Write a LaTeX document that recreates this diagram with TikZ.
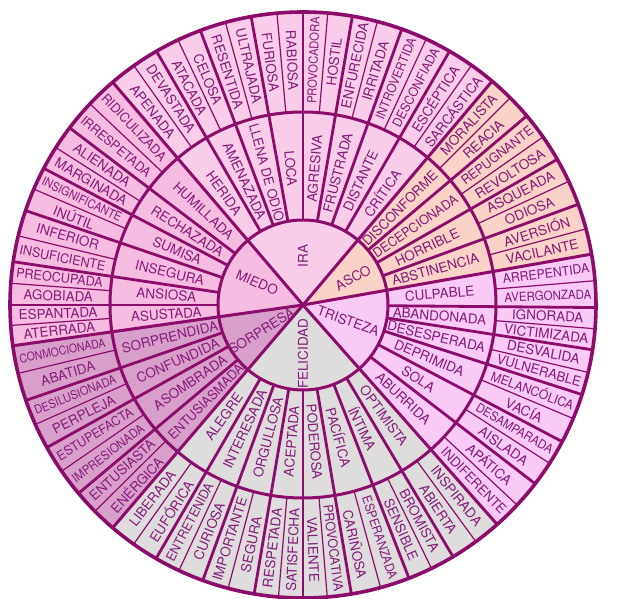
\documentclass[tikz,border=0pt]{standalone}
\usepackage{fontspec}
\setmainfont{TeX Gyre Heros}
\usepackage{graphicx}
\definecolor{cIra}{HTML}{F9CCEA}
\definecolor{cMiedo}{HTML}{F5BBE0}
\definecolor{cAsco}{HTML}{FAD2C7}
\definecolor{cTris}{HTML}{F9CAF6}
\definecolor{cFel}{HTML}{DEDCDD}
\definecolor{cSorp}{HTML}{D99FCB}
\definecolor{lineC}{HTML}{8C0C6C}
\definecolor{txt}{HTML}{86197A}
\newsavebox\fitbox
\newcommand\fitto[2]{\sbox\fitbox{#2}\ifdim\wd\fitbox>#1\relax\pgfmathsetmacro\fr{#1/\wd\fitbox}\pgfmathsetmacro\fy{(1+\fr)/2}\scalebox{\fr}[\fy]{\usebox\fitbox}\else\usebox\fitbox\fi}
\begin{document}
\begin{tikzpicture}[x=1pt,y=1pt,
  lbl/.style={text=txt, font=\fontsize{13.5}{13.5}\selectfont, inner sep=0pt, anchor=center},
  coreline/.style={draw=lineC, line width=3pt},
  secline/.style={draw=lineC, line width=2.8pt},
  thinsep/.style={draw=lineC, line width=1.2pt},
  ringline/.style={draw=lineC, line width=3pt},
  rimline/.style={draw=lineC, line width=3.6pt}]
\useasboundingbox (0pt,0pt) rectangle (641pt,599pt);
\fill[white] (0pt,0pt) rectangle (641pt,599pt);
\def\Ra{85pt}\def\Rb{193pt}\def\Rc{293pt}
\begin{scope}[shift={(303pt,294pt)}]
% sector fills
\foreach \s/\e/\c in {130.5/49.8/cIra, 49.8/10/cAsco, 10/-48.5/cTris, -48.5/-130.5/cFel, -130.5/-172/cSorp, -172/-229.5/cMiedo}
  \fill[\c] (0pt,0pt) -- (\s:\Rc) arc[start angle=\s, end angle=\e, radius=\Rc] -- cycle;
% secondary boundaries
\foreach \a in {120,110.5,100.2,90,80.3,70.3,60,40.2,29.8,20.1,-0.5,-8.8,-17.8,-27.8,-37.6,-59.2,-68.8,-80.5,-90,-99.6,-110,-120.1,-140,-150.9,-161,-180,-188.5,-198.8,-207.8,-217.2}
  \draw[secline] (\a:\Ra) -- (\a:\Rc);
% core boundaries
\foreach \a in {130.5,49.8,10,-48.5,-130.5,-172}
  \draw[coreline] (0pt,0pt) -- (\a:\Rc);
% words
\foreach \s/\e/\m/\oa/\ob [count=\k] in {
130.5/120/HERIDA/APENADA/DEVASTADA,
120/110.5/AMENAZADA/ATACADA/CELOSA,
110.5/100.2/LLENA DE ODIO/RESENTIDA/ULTRAJADA,
100.2/90/LOCA/FURIOSA/RABIOSA,
90/80.3/AGRESIVA/PROVOCADORA/HOSTIL,
80.3/70.3/FRUSTRADA/ENFURECIDA/IRRITADA,
70.3/60/DISTANTE/INTROVERTIDA/DESCONFIADA,
60/49.8/CRÍTICA/ESCÉPTICA/SARCÁSTICA,
49.8/40.2/DISCONFORME/MORALISTA/REACIA,
40.2/29.8/DECEPCIONADA/REPUGNANTE/REVOLTOSA,
29.8/20.1/HORRIBLE/ASQUEADA/ODIOSA,
20.1/10/ABSTINENCIA/AVERSIÓN/VACILANTE,
10/-0.5/CULPABLE/ARREPENTIDA/AVERGONZADA,
-0.5/-8.8/ABANDONADA/IGNORADA/VICTIMIZADA,
-8.8/-17.8/DESESPERADA/DESVALIDA/VULNERABLE,
-17.8/-27.8/DEPRIMIDA/MELANCÓLICA/VACÍA,
-27.8/-37.6/SOLA/DESAMPARADA/AISLADA,
-37.6/-48.5/ABURRIDA/APÁTICA/INDIFERENTE,
-48.5/-59.2/OPTIMISTA/INSPIRADA/ABIERTA,
-59.2/-68.8/ÍNTIMA/BROMISTA/SENSIBLE,
-68.8/-80.5/PACÍFICA/ESPERANZADA/CARIÑOSA,
-80.5/-90/PODEROSA/PROVOCATIVA/VALIENTE,
-90/-99.6/ACEPTADA/SATISFECHA/RESPETADA,
-99.6/-110/ORGULLOSA/SEGURA/IMPORTANTE,
-110/-120.1/INTERESADA/CURIOSA/ENTRETENIDA,
-120.1/-130.5/ALEGRE/EUFÓRICA/LIBERADA,
-130.5/-140/ENTUSIASMADA/ENÉRGICA/ENTUSIASTA,
-140/-150.9/ASOMBRADA/IMPRESIONADA/ESTUPEFACTA,
-150.9/-161/CONFUNDIDA/PERPLEJA/DESILUSIONADA,
-161/-172/SORPRENDIDA/ABATIDA/CONMOCIONADA,
-172/-180/ASUSTADA/ATERRADA/ESPANTADA,
-180/-188.5/ANSIOSA/AGOBIADA/PREOCUPADA,
-188.5/-198.8/INSEGURA/INSUFICIENTE/INFERIOR,
-198.8/-207.8/SUMISA/INÚTIL/INSIGNIFICANTE,
-207.8/-217.2/RECHAZADA/MARGINADA/ALIENADA,
-217.2/-229.5/HUMILLADA/IRRESPETADA/RIDICULIZADA}
{
  \pgfmathsetmacro\mang{(\s+\e)/2}
  \pgfmathsetmacro\qa{(3*\s+\e)/4}
  \pgfmathsetmacro\qb{(\s+3*\e)/4}
  \pgfmathsetmacro\rotm{cos(\mang)>0 ? \mang : \mang+180}
  \pgfmathsetmacro\rota{cos(\qa)>0 ? \qa : \qa+180}
  \pgfmathsetmacro\rotb{cos(\qb)>0 ? \qb : \qb+180}
  \draw[thinsep] (\mang:\Rb) -- (\mang:\Rc);
  \node[lbl, rotate=\rotm] (mid\k) at (\mang:137pt) {\fitto{100pt}{\m}};
  \node[lbl, rotate=\rota] (oa\k) at (\qa:245pt) {\fitto{87pt}{\oa}};
  \node[lbl, rotate=\rotb] (ob\k) at (\qb:245pt) {\fitto{87pt}{\ob}};
}
% rings
\draw[ringline] (0pt,0pt) circle[radius=\Ra];
\draw[ringline] (0pt,0pt) circle[radius=\Rb];
\draw[rimline] (0pt,0pt) circle[radius=\Rc];
% core labels
\node[lbl, rotate=90] (ira) at (90:49pt) {IRA};
\node[lbl, rotate=28.5] (asco) at (28.5:57pt) {ASCO};
\node[lbl, rotate=-19.5] (tristeza) at (-19.5:48pt) {TRISTEZA};
\node[lbl, rotate=90] (felicidad) at (-90:49pt) {FELICIDAD};
\node[lbl, rotate=32] (sorpresa) at (212:49pt) {SORPRESA};
\node[lbl, rotate=-24] (miedo) at (154:51pt) {MIEDO};
\end{scope}
\end{tikzpicture}
\end{document}
